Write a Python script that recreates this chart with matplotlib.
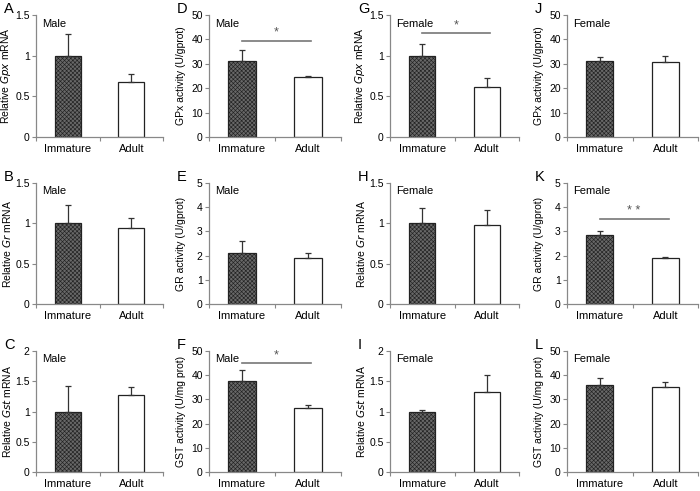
import matplotlib
matplotlib.use('Agg')
import matplotlib.pyplot as plt
from matplotlib.ticker import FormatStrFormatter

plt.rcParams['font.family'] = ['Liberation Sans', 'DejaVu Sans']
plt.rcParams['hatch.color'] = '#484848'
plt.rcParams['hatch.linewidth'] = 0.45

groups = ['Immature', 'Adult']

# panel letter, sex, ylabel, ymax, ystep, means, upper error, significance
letters = ['A', 'D', 'G', 'J', 'B', 'E', 'H', 'K', 'C', 'F', 'I', 'L']
sexes = ['Male', 'Male', 'Female', 'Female',
         'Male', 'Male', 'Female', 'Female',
         'Male', 'Male', 'Female', 'Female']
ylabels = [r'Relative $\it{Gpx}$ mRNA', 'GPx activity (U/gprot)',
           r'Relative $\it{Gpx}$ mRNA', 'GPx activity (U/gprot)',
           r'Relative $\it{Gr}$ mRNA', 'GR activity (U/gprot)',
           r'Relative $\it{Gr}$ mRNA', 'GR activity (U/gprot)',
           r'Relative $\it{Gst}$ mRNA', 'GST activity (U/mg prot)',
           r'Relative $\it{Gst}$ mRNA', 'GST activity (U/mg prot)']
ymax = [1.5, 50, 1.5, 50, 1.5, 5, 1.5, 5, 2, 50, 2, 50]
ystep = [0.5, 10, 0.5, 10, 0.5, 1, 0.5, 1, 0.5, 10, 0.5, 10]
means = [[1.0, 0.68], [31, 24.5], [1.0, 0.62], [31, 30.6],
         [1.0, 0.94], [2.12, 1.9], [1.0, 0.98], [2.87, 1.9],
         [1.0, 1.27], [37.8, 26.3], [1.0, 1.32], [35.8, 35.2]]
errs = [[0.27, 0.10], [4.5, 0.6], [0.14, 0.10], [1.6, 2.7],
        [0.23, 0.12], [0.5, 0.2], [0.19, 0.18], [0.16, 0.05],
        [0.42, 0.14], [4.2, 1.2], [0.03, 0.28], [3.2, 1.9]]
sig_marks = {'D': ('*', 39.5), 'G': ('*', 1.28), 'K': ('* *', 3.5), 'F': ('*', 45)}

lefts = [36, 209, 390, 567]
rights = [163, 341, 519, 698]
tops = [15, 183, 351]
bottoms = [137, 304, 472]
W, H = 700, 491

fig = plt.figure(figsize=(7, 4.91), dpi=100)

for i, letter in enumerate(letters):
    r, c = divmod(i, 4)
    w = rights[c] - lefts[c]
    ax = fig.add_axes([lefts[c] / W, 1 - bottoms[r] / H,
                       w / W, (bottoms[r] - tops[r]) / H])
    ax.bar([0.5, 1.5], means[i], width=0.41,
           color=['#686868', 'white'], edgecolor='#222222', linewidth=0.9,
           hatch=['xxxxxxxx', None], zorder=2)
    ax.errorbar([0.5, 1.5], means[i], yerr=[[0, 0], errs[i]], fmt='none',
                ecolor='#333333', elinewidth=0.9, capsize=2.2, capthick=0.9, zorder=3)
    ax.set_xlim(0, 2)
    ax.set_ylim(0, ymax[i])
    ax.set_xticks([0, 1, 2])
    ax.set_xticklabels([])
    ax.set_xticks([0.5, 1.5], minor=True)
    ax.set_xticklabels(groups, minor=True, fontsize=8)
    ax.tick_params(axis='x', which='minor', length=0, pad=5)
    ax.tick_params(axis='x', which='major', length=3, color='#888888')
    yt = [k * ystep[i] for k in range(int(round(ymax[i] / ystep[i])) + 1)]
    ax.set_yticks(yt)
    ax.yaxis.set_major_formatter(FormatStrFormatter('%g'))
    ax.tick_params(axis='y', length=3, color='#888888', labelsize=7.5, pad=1.5)
    for s in ['top', 'right']:
        ax.spines[s].set_visible(False)
    for s in ['left', 'bottom']:
        ax.spines[s].set_color('#888888')
        ax.spines[s].set_linewidth(0.9)
    ax.set_ylabel(ylabels[i], fontsize=7.5)
    ax.yaxis.set_label_coords(-23 / w, 0.5)
    ax.text(0.05, 0.93, sexes[i], transform=ax.transAxes, fontsize=8, va='center')
    fig.text((lefts[c] - 32) / W, 1 - (tops[r] - 6) / H, letter,
             fontsize=10.5, va='center', ha='left')
    if letter in sig_marks:
        mark, y = sig_marks[letter]
        ax.plot([0.5, 1.55], [y, y], color='#777777', linewidth=1.2, zorder=1)
        ax.text(1.02, y + ymax[i] * 0.015, mark, ha='center', va='bottom',
                fontsize=9, color='#555555')

fig.savefig('out.png', dpi=100)
